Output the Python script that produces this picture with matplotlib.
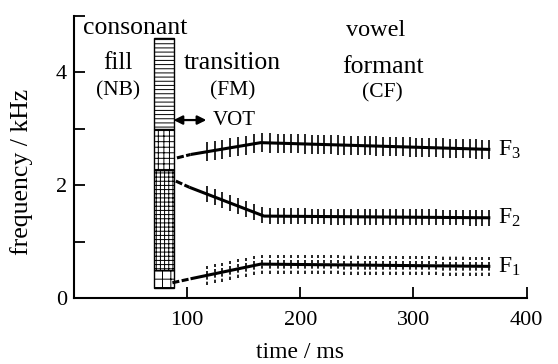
import matplotlib
matplotlib.use('Agg')
import matplotlib.pyplot as plt
import numpy as np

plt.rcParams['font.family'] = ['Liberation Serif', 'DejaVu Serif']
plt.rcParams['mathtext.fontset'] = 'custom'
plt.rcParams['mathtext.rm'] = 'Liberation Serif'
plt.rcParams['mathtext.it'] = 'Liberation Serif:italic'
plt.rcParams['hatch.linewidth'] = 0.7

# formant tracks: breakpoints (ms, kHz); first segment is drawn dashed
f3_t = [91, 103, 165, 368]
f3_f = [2.48, 2.54, 2.75, 2.63]
f2_t = [90, 102, 168, 368]
f2_f = [2.07, 1.96, 1.45, 1.42]
f1_t = [87, 103, 165, 368]
f1_f = [0.27, 0.34, 0.60, 0.56]

# glottal pulse times (ms)
pulses = [118, 125, 131, 138, 145, 152, 159, 166, 173, 180, 186, 192, 198,
          204, 210, 216, 221, 227, 233, 239, 245, 251, 257, 262, 267, 273,
          279, 285, 291, 297, 302, 308, 314, 320, 326, 332, 338, 344, 350,
          355, 361, 367]

# consonant fill (noise burst) segments
fill_x = 71
fill_w = 17
seg_bottom = [0.18, 0.50, 2.27, 3.00]
seg_top = [0.50, 2.27, 3.00, 4.60]
seg_hatch = ['++', '++++', '+++', '----']

fig = plt.figure(figsize=(5.58, 3.64), dpi=100)
ax = fig.add_axes([0.1326, 0.1813, 0.811, 0.776])

for b, t, h in zip(seg_bottom, seg_top, seg_hatch):
    ax.bar(fill_x, t - b, bottom=b, width=fill_w, align='edge',
           color='white', edgecolor='black', linewidth=1.0, hatch=h)

tracks = [(f3_t, f3_f, 0.17, 'solid', r'F$_3$'),
          (f2_t, f2_f, 0.14, 'solid', r'F$_2$'),
          (f1_t, f1_f, 0.17, (0, (2.0, 1.2)), r'F$_1$')]
for tt, ff, half, ls, lab in tracks:
    ax.plot(tt[:2], ff[:2], color='black', lw=2.2, ls=(0, (2.3, 0.8)),
            solid_capstyle='butt')
    ax.plot(tt[1:], ff[1:], color='black', lw=2.2, solid_capstyle='butt')
    pf = np.interp(pulses, tt, ff)
    ax.vlines(pulses, pf - half, pf + half, color='black', lw=1.2,
              linestyles=ls)
    ax.text(tt[-1] + 7, ff[-1], lab, fontsize=17, ha='left', va='center')

# region labels
ax.text(8, 4.78, 'consonant', fontsize=18.5, ha='left', va='center')
ax.text(39, 4.16, 'fill', fontsize=18, ha='center', va='center')
ax.text(39, 3.66, '(NB)', fontsize=15.5, ha='center', va='center')
ax.text(140, 4.16, 'transition', fontsize=18.5, ha='center', va='center')
ax.text(140, 3.66, '(FM)', fontsize=15.5, ha='center', va='center')
ax.text(267, 4.74, 'vowel', fontsize=17.5, ha='center', va='center')
ax.text(273, 4.09, 'formant', fontsize=18.5, ha='center', va='center')
ax.text(273, 3.63, '(CF)', fontsize=15.5, ha='center', va='center')

ax.annotate('', xy=(117, 3.15), xytext=(88, 3.15),
            arrowprops=dict(arrowstyle='<|-|>', color='black', lw=1.6,
                            mutation_scale=13, shrinkA=0, shrinkB=0))
ax.text(123, 3.15, 'VOT', fontsize=15, ha='left', va='center')

ax.set_xlim(0, 400)
ax.set_ylim(0, 5)
ax.spines['top'].set_visible(False)
ax.spines['right'].set_visible(False)
ax.spines['left'].set_bounds(0, 5)
ax.spines['bottom'].set_bounds(0, 400)
ax.spines['left'].set_linewidth(1.5)
ax.spines['bottom'].set_linewidth(1.5)

ax.set_xticks([100, 200, 300, 400])
ax.set_xticklabels(['100', '200', '300', '400'])
ax.set_yticks([0, 1, 2, 3, 4, 5])
ax.set_yticklabels(['0', '', '2', '', '4', ''])
ax.tick_params(axis='both', direction='in', length=8, width=1.3,
               labelsize=16)
ax.tick_params(axis='x', pad=9)
ax.tick_params(axis='y', pad=5)

ax.set_xlabel('time / ms', fontsize=17)
ax.set_ylabel('frequency / kHz', fontsize=18.5)
ax.xaxis.set_label_coords(0.5, -0.155)
ax.yaxis.set_label_coords(-0.09, 0.445)

fig.savefig('out.png', dpi=100)
